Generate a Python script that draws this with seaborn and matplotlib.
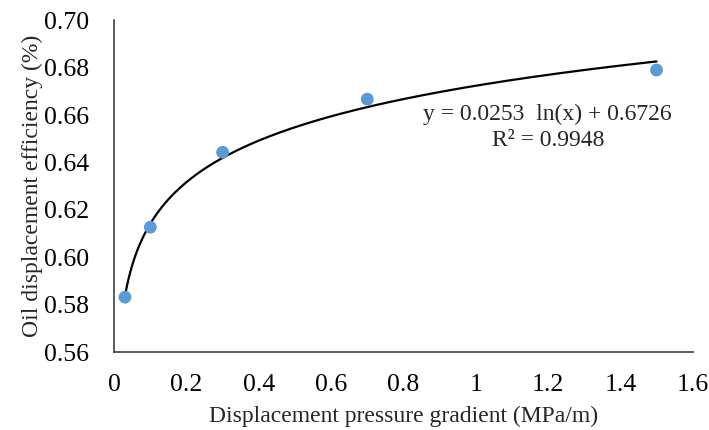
import numpy as np
import pandas as pd
import matplotlib.pyplot as plt
import seaborn as sns

# values
pressure_gradient = [0.03, 0.1, 0.3, 0.7, 1.5]
efficiency = [0.5832, 0.6127, 0.6443, 0.6667, 0.6790]
x_ticks = [0, 0.2, 0.4, 0.6, 0.8, 1, 1.2, 1.4, 1.6]
x_tick_labels = ["0", "0.2", "0.4", "0.6", "0.8", "1", "1.2", "1.4", "1.6"]
y_ticks = [0.56, 0.58, 0.60, 0.62, 0.64, 0.66, 0.68, 0.70]
fit_text = "y = 0.0253  ln(x) + 0.6726\nR\u00b2 = 0.9948"

sns.set_style("white")
plt.rcParams['font.family'] = ['Liberation Serif', 'DejaVu Serif']
plt.rcParams['font.size'] = 17

df = pd.DataFrame({'x': pressure_gradient, 'y': efficiency})

# logarithmic trend line from the points
slope, intercept = np.polyfit(np.log(df['x']), df['y'], 1)
xs = np.linspace(df['x'].min(), df['x'].max(), 300)
trend = pd.DataFrame({'x': xs, 'y': slope * np.log(xs) + intercept})

fig = plt.figure(figsize=(7.09, 4.30), dpi=100)
ax = fig.add_axes([0.161, 0.181, 0.816, 0.772])

sns.lineplot(data=trend, x='x', y='y', color='black', linewidth=1.6, ax=ax)
sns.scatterplot(data=df, x='x', y='y', color='#5B9BD5', s=85, edgecolor='none',
                zorder=3, ax=ax)

ax.set_xlim(0, 1.6)
ax.set_ylim(0.56, 0.70)
ax.set_xticks(x_ticks)
ax.set_xticklabels(x_tick_labels)
ax.set_yticks(y_ticks)
ax.set_yticklabels([f"{v:.2f}" for v in y_ticks])
ax.tick_params(direction='in', length=5, width=1, colors='black', labelsize=18.5)
ax.tick_params(axis='x', pad=16)
ax.tick_params(axis='y', pad=18)

for side in ['top', 'right']:
    ax.spines[side].set_visible(False)
for side in ['left', 'bottom']:
    ax.spines[side].set_color('#404040')
    ax.spines[side].set_linewidth(1.2)

ax.set_xlabel('Displacement pressure gradient (MPa/m)', labelpad=7)
ax.set_ylabel('Oil displacement efficiency (%)', labelpad=1)

ax.text(1.199, 0.6548, fit_text, ha='center', va='center', linespacing=1.3)

fig.savefig('out.png', dpi=100)
